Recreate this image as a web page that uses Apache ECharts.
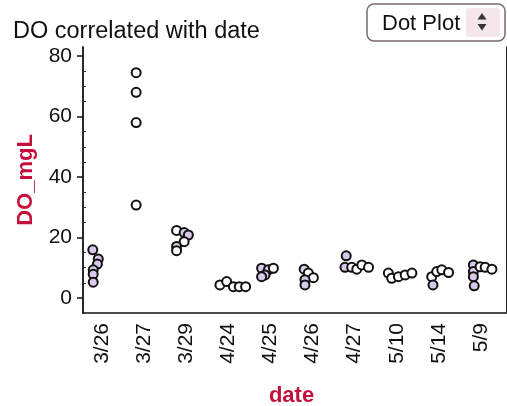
<!DOCTYPE html>
<html>
<head>
<meta charset="utf-8">
<script src="https://cdn.jsdelivr.net/npm/echarts@6/dist/echarts.min.js"></script>
<style>
html,body{margin:0;padding:0;background:#fff;}
#chart{width:507px;height:406px;}
</style>
</head>
<body>
<div id="chart"></div>
<script>
// ---- data ----
var dates = ['3/26','3/27','3/29','4/24','4/25','4/26','4/27','5/10','5/14','5/9'];
var yTickLabels = [0, 20, 40, 60, 80];
var yMinorTicks = [5, 10, 15, 25, 30, 35, 45, 50, 55, 65, 70, 75];

var do_3_26 = [15.9, 12.9, 11.2, 9.3, 7.8, 5.2];
var do_3_27 = [74.5, 68.0, 58.0, 30.7];
var do_3_29 = [22.3, 21.6, 20.8, 18.6, 17.0, 15.6];
var do_4_24 = [4.3, 5.4, 3.7, 3.7, 3.7];
var do_4_25 = [9.8, 9.3, 9.8, 7.6, 7.0];
var do_4_26 = [9.5, 8.2, 6.7, 6.0, 4.3];
var do_4_27 = [13.9, 10.1, 10.1, 9.5, 10.9, 10.1];
var do_5_10 = [8.2, 6.5, 7.0, 7.6, 8.2];
var do_5_14 = [7.0, 4.3, 8.7, 9.3, 8.4];
var do_5_9  = [10.9, 8.7, 7.0, 4.0, 10.3, 10.1, 9.5];

// horizontal jitter of each dot within its date band (category units)
var jit_3_26 = [-0.22, -0.09, -0.11, -0.21, -0.21, -0.21];
var jit_3_27 = [-0.19, -0.19, -0.19, -0.19];
var jit_3_29 = [-0.23, -0.05, 0.05, -0.05, -0.23, -0.23];
var jit_4_24 = [-0.20, -0.04, 0.12, 0.26, 0.41];
var jit_4_25 = [-0.21, -0.05, 0.07, -0.13, -0.21];
var jit_4_26 = [-0.20, -0.10, 0.02, -0.18, -0.18];
var jit_4_27 = [-0.20, -0.23, -0.07, 0.05, 0.17, 0.33];
var jit_5_10 = [-0.20, -0.12, 0.04, 0.20, 0.36];
var jit_5_14 = [-0.17, -0.14, -0.05, 0.07, 0.23];
var jit_5_9  = [-0.18, -0.18, -0.18, -0.16, -0.02, 0.10, 0.26];

// which dots are shaded (1) or open (0)
var sh_3_26 = [1, 1, 1, 1, 1, 1];
var sh_3_27 = [0, 0, 0, 0];
var sh_3_29 = [0, 1, 1, 0, 1, 0];
var sh_4_24 = [0, 0, 0, 0, 0];
var sh_4_25 = [1, 1, 0, 1, 1];
var sh_4_26 = [1, 0, 0, 1, 1];
var sh_4_27 = [1, 1, 0, 0, 0, 0];
var sh_5_10 = [0, 0, 0, 0, 0];
var sh_5_14 = [0, 1, 0, 0, 0];
var sh_5_9  = [1, 1, 1, 1, 0, 0, 0];

var values  = [do_3_26, do_3_27, do_3_29, do_4_24, do_4_25, do_4_26, do_4_27, do_5_10, do_5_14, do_5_9];
var jitters = [jit_3_26, jit_3_27, jit_3_29, jit_4_24, jit_4_25, jit_4_26, jit_4_27, jit_5_10, jit_5_14, jit_5_9];
var shades  = [sh_3_26, sh_3_27, sh_3_29, sh_4_24, sh_4_25, sh_4_26, sh_4_27, sh_5_10, sh_5_14, sh_5_9];

// ---- build ----
var FONT = 'Liberation Sans, Arial, Helvetica, sans-serif';
var RED = '#c4103c';
var SHADE = '#d8c9ea';

var points = [];
values.forEach(function (arr, ci) {
  arr.forEach(function (v, k) {
    points.push({
      value: [ci + jitters[ci][k], v],
      itemStyle: { color: shades[ci][k] ? SHADE : '#ffffff' }
    });
  });
});

var chart = echarts.init(document.getElementById('chart'), null, {renderer: 'canvas'});
chart.setOption({
  animation: false,
  backgroundColor: '#ffffff',
  textStyle: { fontFamily: FONT },
  grid: [
    { left: 81, right: 5, top: 47, bottom: 93, containLabel: false, outerBoundsMode: 'none' },
    { left: 83, right: 1, top: 47, bottom: 93, containLabel: false, outerBoundsMode: 'none' }
  ],
  xAxis: [
    {
      type: 'category', gridIndex: 0, data: dates, boundaryGap: true,
      axisLine: { show: false }, axisTick: { show: false },
      axisLabel: { rotate: 90, fontSize: 21, margin: 10, color: '#111', fontFamily: FONT, interval: 0 },
      name: 'date', nameLocation: 'middle', nameGap: 72,
      nameTextStyle: { color: RED, fontWeight: 'bold', fontSize: 22, fontFamily: FONT }
    },
    { type: 'value', gridIndex: 0, min: -0.5, max: 9.5, show: false },
    {
      type: 'value', gridIndex: 1, min: 0, max: 1,
      axisLine: { show: true, onZero: false, lineStyle: { color: '#111', width: 1.5 } },
      axisTick: { show: false }, axisLabel: { show: false }, splitLine: { show: false }
    }
  ],
  yAxis: [
    { type: 'value', gridIndex: 0, min: -5, max: 83, show: false },
    {
      type: 'value', gridIndex: 1, min: -5, max: 83, interval: 5,
      axisLine: { show: true, onZero: false, lineStyle: { color: '#111', width: 1.8 } },
      axisTick: { show: true, length: 6, customValues: yTickLabels, lineStyle: { color: '#111', width: 1.5 } },
      axisLabel: { show: true, customValues: yTickLabels, fontSize: 21, margin: 11, color: '#111', fontFamily: FONT },
      splitLine: { show: false },
      name: 'DO_mgL', nameLocation: 'middle', nameGap: 46, nameRotate: 90,
      nameTextStyle: { color: RED, fontWeight: 'bold', fontSize: 22, fontFamily: FONT }
    },
    {
      type: 'value', gridIndex: 1, min: -5, max: 83, interval: 5,
      axisLine: { show: false },
      axisTick: { show: true, length: 3, customValues: yMinorTicks, lineStyle: { color: '#333', width: 1 } },
      axisLabel: { show: false }, splitLine: { show: false }
    },
    {
      type: 'value', gridIndex: 1, min: -5, max: 83, position: 'right',
      axisLine: { show: true, onZero: false, lineStyle: { color: '#222', width: 1 } },
      axisTick: { show: false }, axisLabel: { show: false }, splitLine: { show: false }
    }
  ],
  series: [{
    type: 'scatter', xAxisIndex: 1, yAxisIndex: 0,
    symbol: 'circle', symbolSize: 9,
    itemStyle: { borderColor: '#111', borderWidth: 2, opacity: 1 },
    data: points
  }],
  graphic: [
    { type: 'text', left: 13, top: 20,
      style: { text: 'DO correlated with date', font: '23.5px ' + FONT, fill: '#111' } },
    { type: 'rect', shape: { x: 367, y: 4, width: 138, height: 37, r: 7 },
      style: { fill: '#ffffff', stroke: '#7a6a70', lineWidth: 1.5 } },
    { type: 'rect', shape: { x: 466, y: 8, width: 34, height: 29, r: 3 },
      style: { fill: '#f4e6ea' } },
    { type: 'text', x: 382, y: 13,
      style: { text: 'Dot Plot', font: '22px ' + FONT, fill: '#111' } },
    { type: 'polygon', shape: { points: [[482, 13], [477.5, 19.5], [486.5, 19.5]] }, style: { fill: '#333' } },
    { type: 'polygon', shape: { points: [[477.5, 24], [486.5, 24], [482, 30.5]] }, style: { fill: '#333' } }
  ]
});
</script>
</body>
</html>
